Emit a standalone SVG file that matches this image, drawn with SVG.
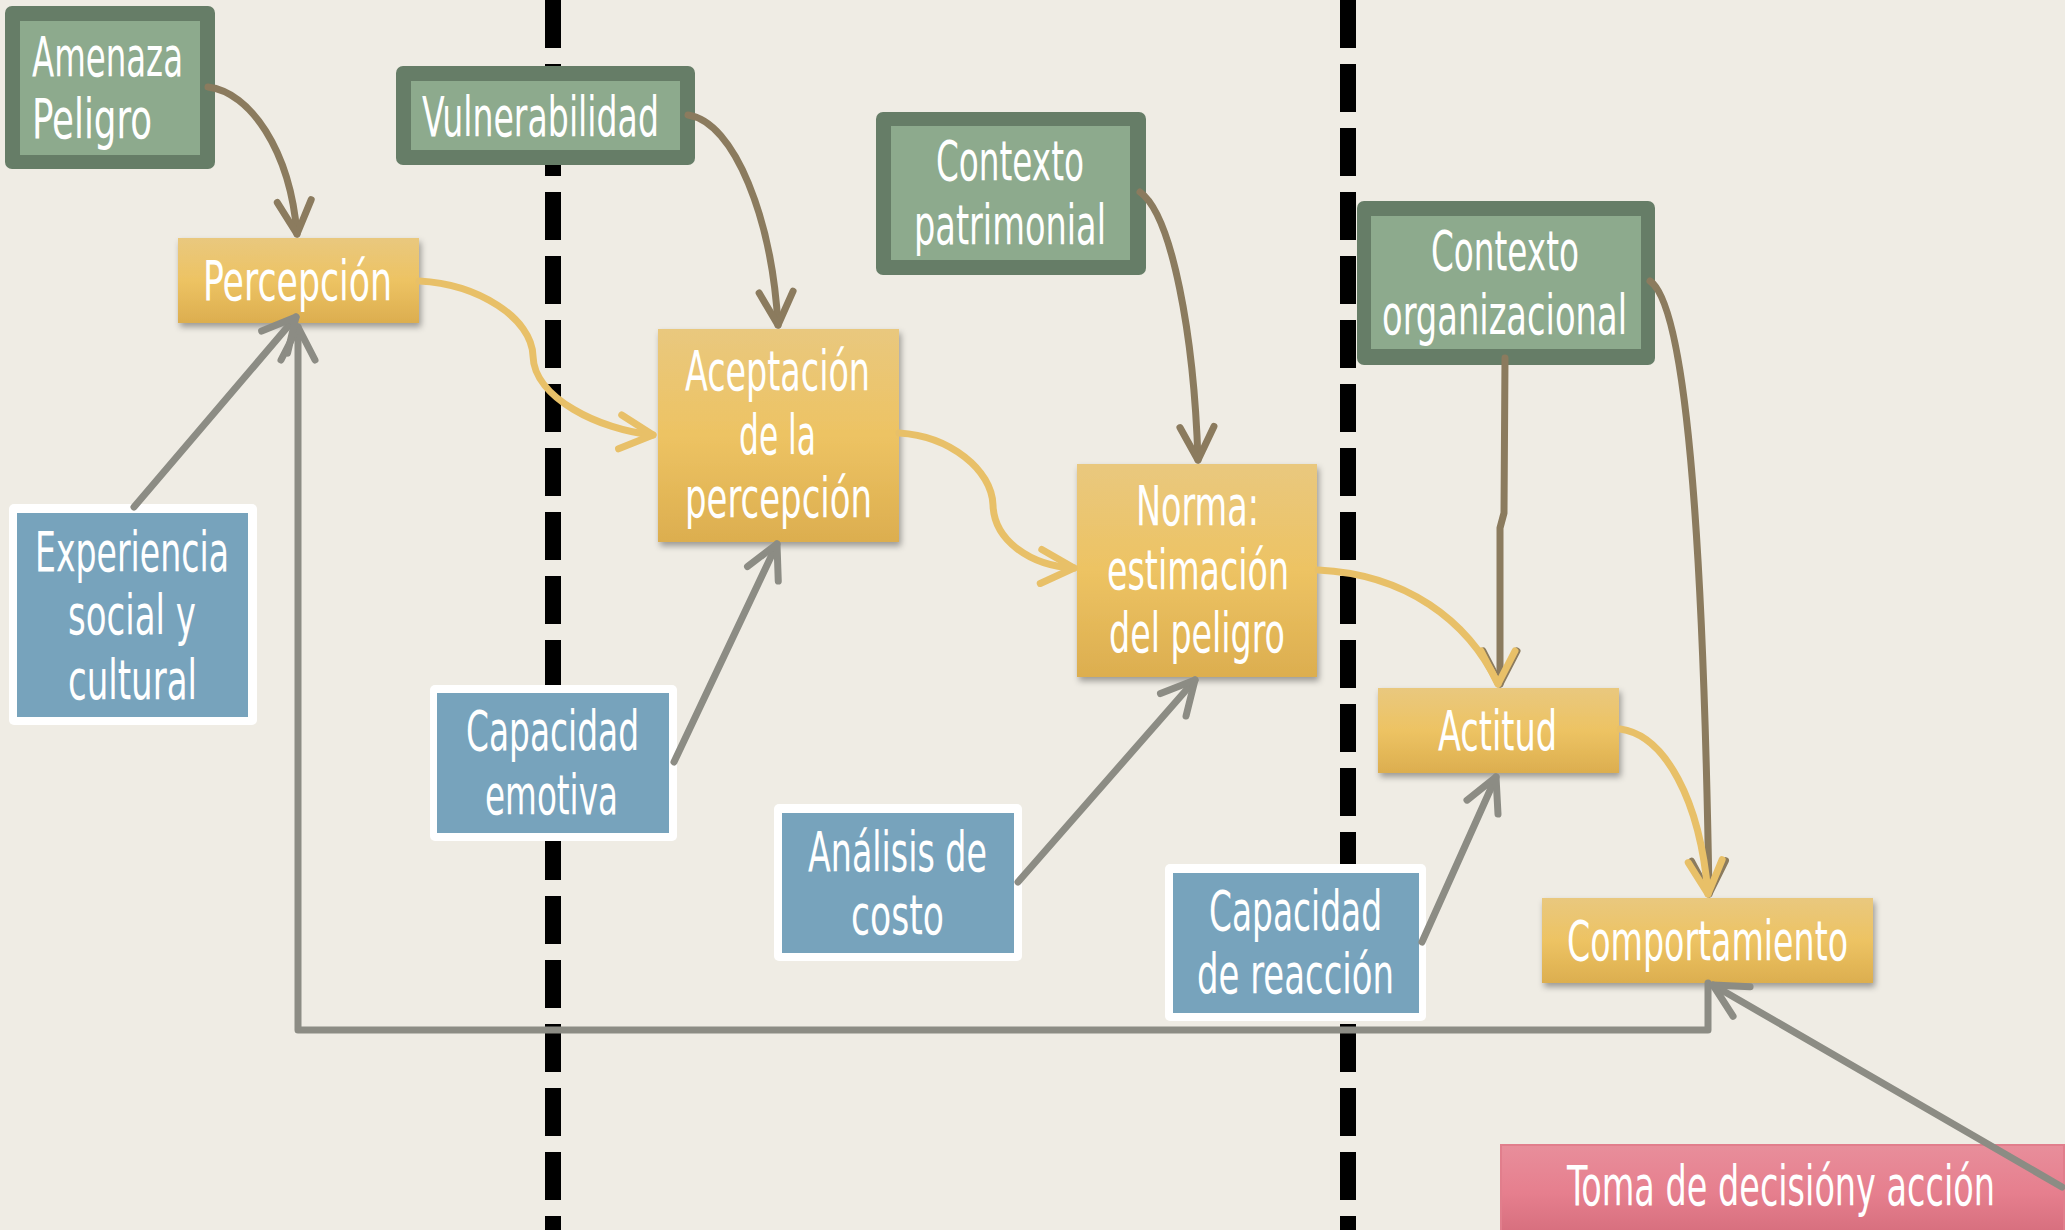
<svg xmlns="http://www.w3.org/2000/svg" width="2065" height="1230" viewBox="0 0 2065 1230">
<defs>
<style>
.t{font-family:"Liberation Sans Narrow","DejaVu Sans Condensed","Liberation Sans",Arial,sans-serif;font-size:55px;fill:#ffffff;}
.gOut{fill:#667D67;}
.gIn{fill:#8DAA8D;}
.bOut{fill:#ffffff;}
.bIn{fill:#77A3BC;}
.y{fill:url(#yg);filter:url(#sh);}
.div{stroke:#000;stroke-width:16;stroke-dasharray:48 16;fill:none;}
.cb{stroke:#8B7B5E;stroke-width:7;fill:none;stroke-linecap:round;stroke-linejoin:round;}
.cy{stroke:#E8C068;stroke-width:7;fill:none;stroke-linecap:round;stroke-linejoin:round;}
.cg{stroke:#8C8C84;stroke-width:7;fill:none;stroke-linecap:round;stroke-linejoin:round;}
</style>
<linearGradient id="yg" x1="0" y1="0" x2="0" y2="1">
<stop offset="0" stop-color="#E9C87E"/>
<stop offset="0.5" stop-color="#EDC363"/>
<stop offset="1" stop-color="#DCAE4F"/>
</linearGradient>
<linearGradient id="pg" x1="0" y1="0" x2="0" y2="1">
<stop offset="0" stop-color="#E88E9B"/>
<stop offset="0.5" stop-color="#E67F8E"/>
<stop offset="1" stop-color="#D46C7B"/>
</linearGradient>
<filter id="sh" x="-10%" y="-10%" width="125%" height="140%">
<feDropShadow dx="2" dy="4" stdDeviation="3" flood-color="#000" flood-opacity="0.35"/>
</filter>
<marker id="ab" markerUnits="userSpaceOnUse" orient="auto" overflow="visible" markerWidth="1" markerHeight="1" refX="0" refY="0">
<path d="M-33,-17 L0,0 L-33,17" fill="none" stroke="#8B7B5E" stroke-width="7" stroke-linecap="round" stroke-linejoin="round"/>
</marker>
<marker id="ay" markerUnits="userSpaceOnUse" orient="auto" overflow="visible" markerWidth="1" markerHeight="1" refX="0" refY="0">
<path d="M-33,-17 L0,0 L-33,17" fill="none" stroke="#E8C068" stroke-width="7" stroke-linecap="round" stroke-linejoin="round"/>
</marker>
<marker id="ayd" markerUnits="userSpaceOnUse" orient="90" overflow="visible" markerWidth="1" markerHeight="1" refX="0" refY="0">
<path d="M-33,-17 L0,0 L-33,17" fill="none" stroke="#E8C068" stroke-width="7" stroke-linecap="round" stroke-linejoin="round"/>
</marker>
<marker id="ag" markerUnits="userSpaceOnUse" orient="auto" overflow="visible" markerWidth="1" markerHeight="1" refX="0" refY="0">
<path d="M-33,-17 L0,0 L-33,17" fill="none" stroke="#8C8C84" stroke-width="7" stroke-linecap="round" stroke-linejoin="round"/>
</marker>
</defs>

<rect x="0" y="0" width="2065" height="1230" fill="#EFECE4"/>

<g id="dividers">
<line class="div" x1="553" y1="0" x2="553" y2="1230"/>
<line class="div" x1="1348" y1="0" x2="1348" y2="1230"/>
</g>

<g id="amenaza">
<rect class="gOut" x="5" y="6" width="210" height="163" rx="7"/>
<rect class="gIn" x="20" y="21" width="180" height="134"/>
<text class="t" x="32" y="76" textLength="151" lengthAdjust="spacingAndGlyphs">Amenaza</text>
<text class="t" x="32" y="138" textLength="120" lengthAdjust="spacingAndGlyphs">Peligro</text>
</g>

<g id="vulnerabilidad">
<rect class="gOut" x="396" y="66" width="299" height="99" rx="7"/>
<rect class="gIn" x="411" y="81" width="269" height="69"/>
<text class="t" x="422" y="136" textLength="237" lengthAdjust="spacingAndGlyphs">Vulnerabilidad</text>
</g>

<g id="contexto-patrimonial">
<rect class="gOut" x="876" y="112" width="270" height="163" rx="7"/>
<rect class="gIn" x="891" y="126" width="239" height="134"/>
<text class="t" x="936" y="180" textLength="148" lengthAdjust="spacingAndGlyphs">Contexto</text>
<text class="t" x="914" y="244" textLength="192" lengthAdjust="spacingAndGlyphs">patrimonial</text>
</g>

<g id="contexto-organizacional">
<rect class="gOut" x="1357" y="201" width="298" height="164" rx="7"/>
<rect class="gIn" x="1371" y="216" width="270" height="133"/>
<text class="t" x="1431" y="270" textLength="148" lengthAdjust="spacingAndGlyphs">Contexto</text>
<text class="t" x="1382" y="334" textLength="245" lengthAdjust="spacingAndGlyphs">organizacional</text>
</g>

<g id="percepcion">
<rect class="y" x="178" y="238" width="241" height="85"/>
<text class="t" x="203" y="300" textLength="189" lengthAdjust="spacingAndGlyphs">Percepción</text>
</g>

<g id="aceptacion">
<rect class="y" x="658" y="329" width="241" height="213"/>
<text class="t" x="685" y="390" textLength="185" lengthAdjust="spacingAndGlyphs">Aceptación</text>
<text class="t" x="739" y="454" textLength="77" lengthAdjust="spacingAndGlyphs">de la</text>
<text class="t" x="685" y="517" textLength="187" lengthAdjust="spacingAndGlyphs">percepción</text>
</g>

<g id="norma">
<rect class="y" x="1077" y="464" width="240" height="213"/>
<text class="t" x="1136" y="525" textLength="123" lengthAdjust="spacingAndGlyphs">Norma:</text>
<text class="t" x="1107" y="589" textLength="182" lengthAdjust="spacingAndGlyphs">estimación</text>
<text class="t" x="1109" y="652" textLength="176" lengthAdjust="spacingAndGlyphs">del peligro</text>
</g>

<g id="actitud">
<rect class="y" x="1378" y="688" width="241" height="85"/>
<text class="t" x="1438" y="750" textLength="119" lengthAdjust="spacingAndGlyphs">Actitud</text>
</g>

<g id="comportamiento">
<rect class="y" x="1542" y="898" width="331" height="85"/>
<text class="t" x="1567" y="960" textLength="281" lengthAdjust="spacingAndGlyphs">Comportamiento</text>
</g>

<g id="experiencia">
<rect class="bOut" x="9" y="504" width="248" height="221" rx="5"/>
<rect class="bIn" x="17" y="513" width="231" height="204"/>
<text class="t" x="35" y="571" textLength="194" lengthAdjust="spacingAndGlyphs">Experiencia</text>
<text class="t" x="68" y="634" textLength="128" lengthAdjust="spacingAndGlyphs">social y</text>
<text class="t" x="68" y="699" textLength="129" lengthAdjust="spacingAndGlyphs">cultural</text>
</g>

<g id="capacidad-emotiva">
<rect class="bOut" x="430" y="685" width="247" height="156" rx="5"/>
<rect class="bIn" x="437" y="693" width="232" height="140"/>
<text class="t" x="466" y="750" textLength="173" lengthAdjust="spacingAndGlyphs">Capacidad</text>
<text class="t" x="485" y="814" textLength="133" lengthAdjust="spacingAndGlyphs">emotiva</text>
</g>

<g id="analisis-costo">
<rect class="bOut" x="774" y="804" width="248" height="157" rx="5"/>
<rect class="bIn" x="782" y="813" width="232" height="140"/>
<text class="t" x="808" y="871" textLength="179" lengthAdjust="spacingAndGlyphs">Análisis de</text>
<text class="t" x="851" y="934" textLength="93" lengthAdjust="spacingAndGlyphs">costo</text>
</g>

<g id="capacidad-reaccion">
<rect class="bOut" x="1165" y="864" width="261" height="157" rx="5"/>
<rect class="bIn" x="1173" y="873" width="246" height="140"/>
<text class="t" x="1209" y="930" textLength="173" lengthAdjust="spacingAndGlyphs">Capacidad</text>
<text class="t" x="1197" y="993" textLength="197" lengthAdjust="spacingAndGlyphs">de reacción</text>
</g>

<g id="toma-decision">
<rect x="1501" y="1145" width="563" height="95" fill="url(#pg)" stroke="#E17E8C" stroke-width="2"/>
<text class="t" x="1567" y="1205" textLength="428" lengthAdjust="spacingAndGlyphs">Toma de decisióny acción</text>
</g>

<g id="connectors">
<path class="cg" d="M1708,983 L1708,1030 L298,1030 L298,327" marker-end="url(#ag)"/>
<path class="cg" d="M134,507 L296,317" marker-end="url(#ag)"/>
<path class="cg" d="M674,762 L777,544" marker-end="url(#ag)"/>
<path class="cg" d="M1018,882 L1195,680" marker-end="url(#ag)"/>
<path class="cg" d="M1422,942 L1496,777" marker-end="url(#ag)"/>
<path class="cg" d="M2062,1187 L1713,985" marker-end="url(#ag)"/>
<path class="cb" d="M208,87 C250,92 290,150 297,234" marker-end="url(#ab)"/>
<path class="cb" d="M688,115 C735,122 772,220 778,325" marker-end="url(#ab)"/>
<path class="cb" d="M1140,192 C1172,215 1194,335 1198,460" marker-end="url(#ab)"/>
<path class="cb" d="M1505,358 L1504,513 L1500,528 L1500,684" marker-end="url(#ab)"/>
<path class="cb" d="M1650,281 C1685,305 1703,520 1709,894" marker-end="url(#ab)"/>
<path class="cy" d="M419,281 C478,284 532,318 533,356 C534,398 600,430 653,435" marker-end="url(#ay)"/>
<path class="cy" d="M899,433 C950,436 992,470 993,505 C994,540 1030,566 1074,568" marker-end="url(#ay)"/>
<path class="cy" d="M1318,570 C1405,574 1468,620 1498,684" marker-end="url(#ayd)"/>
<path class="cy" d="M1620,729 C1665,735 1700,800 1708,894" marker-end="url(#ay)"/>
</g>
</svg>
